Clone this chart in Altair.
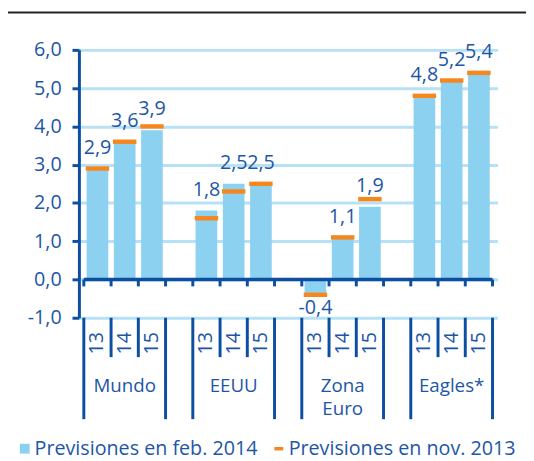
import altair as alt
import pandas as pd

# ---- data ----
groups = ["Mundo", "EEUU", "Zona\nEuro", "Eagles*"]
years = ["13", "14", "15"]
feb_2014 = [2.9, 3.6, 3.9, 1.8, 2.5, 2.5, -0.4, 1.1, 1.9, 4.8, 5.2, 5.4]
nov_2013 = [2.9, 3.6, 4.0, 1.6, 2.3, 2.5, -0.4, 1.1, 2.1, 4.8, 5.2, 5.4]
series = ["Previsiones en feb. 2014", "Previsiones en nov. 2013"]
y_ticks = [-1, 0, 1, 2, 3, 4, 5, 6]

# ---- styling ----
FONT = "Open Sans"
FS = 20
BAR = "#8dd1f0"
ORANGE = "#f6871f"
AXC = "#0b4ea2"
TXT = "#1d56a6"
GRID = "#b6e1f6"
DASH = "M-0.9,-0.35H0.9V0.35H-0.9Z"

W, H = 425, 272
FMT = "replace(replace(format({v}, '.1f'), '.', ','), '\u2212', '-')"

rows = []
for gi, g in enumerate(groups):
    for yi, yr in enumerate(years):
        i = gi * 3 + yi
        rows.append({"grupo": g, "year": yr, "pos": gi * 4 + yi + 0.5,
                     "feb": feb_2014[i], "nov": nov_2013[i], "zero": 0.0})
df = pd.DataFrame(rows)
gdf = pd.DataFrame({"grupo": groups, "gpos": [gi * 4 + 1.5 for gi in range(len(groups))]})
bdf = pd.DataFrame({"b": list(range(16))})
bdf["long"] = bdf["b"].apply(lambda v: 1 if v % 4 in (0, 3) else 0)
bdf["zero"] = 0.0
bdf["tick_end"] = -0.18

x_scale = alt.Scale(domain=[0, 15], nice=False, zero=False)
y_scale = alt.Scale(domain=[-1, 6], nice=False, zero=False)


def yaxis():
    return alt.Axis(values=y_ticks, title=None, labelOverlap=False,
                    labelExpr=FMT.format(v="datum.value"),
                    domainColor=AXC, domainWidth=3, tickColor=AXC, tickWidth=3, tickSize=7,
                    labelColor=TXT, labelFont=FONT, labelFontSize=FS, labelPadding=11,
                    grid=True, gridColor=GRID, gridWidth=3)


def X(field):
    return alt.X(field, scale=x_scale, axis=None)


def Y(field):
    return alt.Y(field, scale=y_scale, axis=yaxis())


base = alt.Chart(df)

bars = base.mark_bar(size=22, color=BAR).encode(
    x=X("pos:Q"), y=Y("feb:Q"), y2="zero:Q",
)

ticks = base.transform_calculate(
    x1="datum.pos - 0.43", x2="datum.pos + 0.43"
).mark_rule(color=ORANGE, strokeWidth=4.5).encode(
    x=X("x1:Q"), x2="x2:Q", y=Y("nov:Q"),
)

bch = alt.Chart(bdf)
zero_line = bch.transform_aggregate(
    bmin="min(b)", bmax="max(b)", zero="min(zero)"
).mark_rule(color=AXC, strokeWidth=3.5).encode(
    x=X("bmin:Q"), x2="bmax:Q", y=Y("zero:Q"))

zero_ticks = bch.mark_rule(color=AXC, strokeWidth=3).encode(
    x=X("b:Q"), y=Y("zero:Q"), y2="tick_end:Q")
sep_short = bch.transform_filter("datum.long == 0").mark_rule(color=AXC, strokeWidth=3).encode(
    x=X("b:Q"), y=alt.value(H), y2=alt.value(312))
sep_long = bch.transform_filter("datum.long == 1").mark_rule(color=AXC, strokeWidth=3).encode(
    x=X("b:Q"), y=alt.value(H), y2=alt.value(375))

year_lbl = base.mark_text(angle=270, align="center", baseline="middle", font=FONT,
                          fontSize=FS, color=TXT).encode(
    x=X("pos:Q"), y=alt.value(298), text="year:N")

group_lbl = alt.Chart(gdf).mark_text(align="center", baseline="top", lineBreak="\n",
                                     lineHeight=24, font=FONT, fontSize=19, color=TXT).encode(
    x=X("gpos:Q"), y=alt.value(332), text="grupo:N")

lab = base.transform_calculate(lab=FMT.format(v="datum.feb"))
val_pos = lab.transform_filter("datum.feb >= 0").mark_text(
    align="center", baseline="middle", dy=-21, font=FONT, fontSize=FS, color=TXT).encode(
    x=X("pos:Q"), y=Y("feb:Q"), text="lab:N")
val_neg = lab.transform_filter("datum.feb < 0").mark_text(
    align="center", baseline="middle", dy=14, font=FONT, fontSize=FS, color=TXT).encode(
    x=X("pos:Q"), y=Y("feb:Q"), text="lab:N")

top_line = bch.transform_aggregate(n="count()").mark_rule(color="#222222", strokeWidth=2).encode(
    x=alt.value(-72), x2=alt.value(W + 29), y=alt.value(-38))

leg_props = dict(orient="none", legendX=-65, legendY=395, direction="horizontal", columns=2,
                 title=None, labelFont=FONT, labelFontSize=FS, labelColor=TXT, labelLimit=400,
                 symbolSize=100, symbolOpacity=1, symbolStrokeWidth=0, labelOffset=0,
                 columnPadding=11, padding=0)
legend = alt.Chart(pd.DataFrame({"serie": series})).mark_point(filled=True, opacity=0).encode(
    x=alt.value(0), y=alt.value(0),
    color=alt.Color("serie:N", scale=alt.Scale(domain=series, range=[BAR, ORANGE]),
                    legend=alt.Legend(**leg_props)),
    shape=alt.Shape("serie:N", scale=alt.Scale(domain=series, range=["square", DASH]),
                    legend=alt.Legend(**leg_props)),
)

chart = alt.layer(
    bars, ticks, zero_line, zero_ticks, sep_short, sep_long,
    year_lbl, group_lbl, val_pos, val_neg, top_line, legend
).properties(
    width=W, height=H,
    autosize=alt.AutoSizeParams(type="none"),
    padding={"left": 72, "top": 39, "right": 29, "bottom": 146},
).configure_view(stroke=None).configure_axisX(
    domain=False, ticks=False, labels=False, grid=False
)

chart.save("out.html", embed_options={"renderer": "svg", "actions": False})
